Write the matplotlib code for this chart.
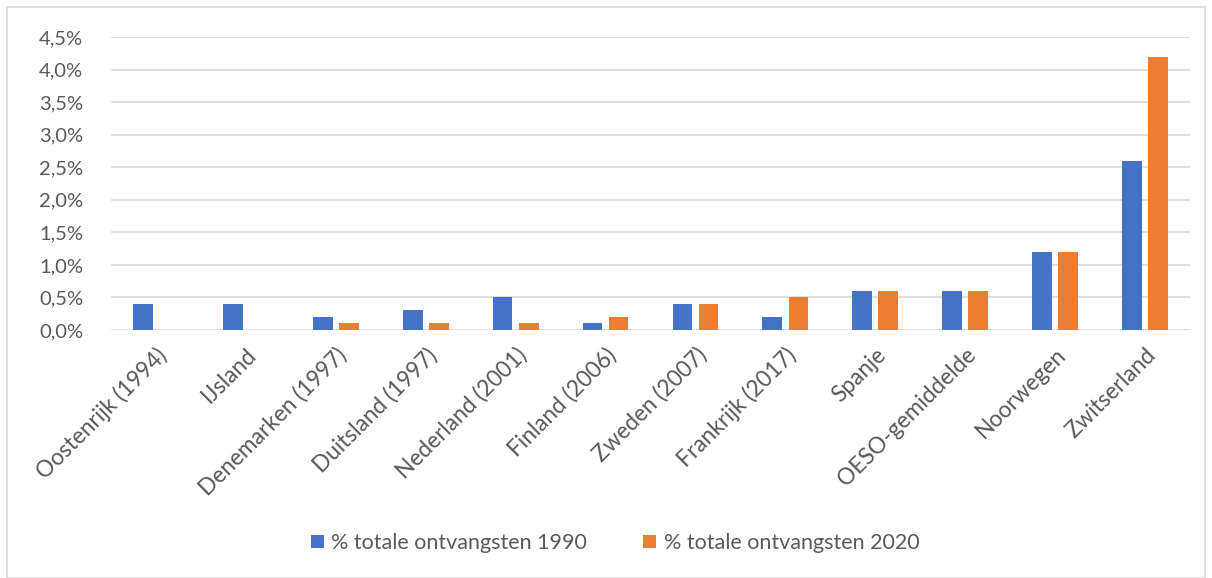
import matplotlib
matplotlib.use("Agg")
import matplotlib.pyplot as plt
import numpy as np
from matplotlib.ticker import FuncFormatter, MultipleLocator
from matplotlib.patches import Rectangle

categories = ["Oostenrijk (1994)", "IJsland", "Denemarken (1997)", "Duitsland (1997)",
              "Nederland (2001)", "Finland (2006)", "Zweden (2007)", "Frankrijk (2017)",
              "Spanje", "OESO-gemiddelde", "Noorwegen", "Zwitserland"]
vals_1990 = [0.4, 0.4, 0.2, 0.3, 0.5, 0.1, 0.4, 0.2, 0.6, 0.6, 1.2, 2.6]
vals_2020 = [0.0, 0.0, 0.1, 0.1, 0.1, 0.2, 0.4, 0.5, 0.6, 0.6, 1.2, 4.2]
series_names = ["% totale ontvangsten 1990", "% totale ontvangsten 2020"]

plt.rcParams['font.family'] = ['Lato', 'DejaVu Sans']
W, H = 1212, 578
fig = plt.figure(figsize=(W/100, H/100), dpi=100)
ax = fig.add_axes([111/W, 1-330/H, (1190-111)/W, (330-37)/H])

x = np.arange(len(categories))
bw = 0.22
off = 0.145
blue = "#4472C4"
orange = "#ED7D31"
ax.bar(x - off, vals_1990, bw, color=blue, label=series_names[0], zorder=3)
ax.bar(x + off, vals_2020, bw, color=orange, label=series_names[1], zorder=3)

ax.set_xlim(-0.5, len(categories) - 0.5)
ax.set_ylim(0, 4.5)
ax.yaxis.set_major_locator(MultipleLocator(0.5))
ax.yaxis.set_major_formatter(FuncFormatter(lambda v, p: f"{v:.1f}%".replace(".", ",")))
ax.grid(axis="y", color="#D9D9D9", linewidth=1.2, zorder=0)
for s in ax.spines.values():
    s.set_visible(False)
ax.tick_params(axis="both", length=0, colors="#595959")
ax.tick_params(axis="y", pad=20, labelsize=14.5)
ax.set_xticks(x)
ax.set_xticklabels(categories, rotation=45, ha="right", rotation_mode="anchor")
ax.tick_params(axis="x", pad=10, labelsize=16.3)

leg = fig.legend(loc="center", bbox_to_anchor=(615/W, 1-543/H), ncol=2, frameon=False,
                 fontsize=15.5, handlelength=0.6, handleheight=0.6, handletextpad=0.35,
                 columnspacing=2.6, labelcolor="#595959")

fig.patches.append(Rectangle((7/W, 0), 1-14/W, 1-7/H, transform=fig.transFigure,
                             fill=False, edgecolor="#D9D9D9", linewidth=1.2))

fig.savefig("out.png", dpi=100, facecolor="white")
